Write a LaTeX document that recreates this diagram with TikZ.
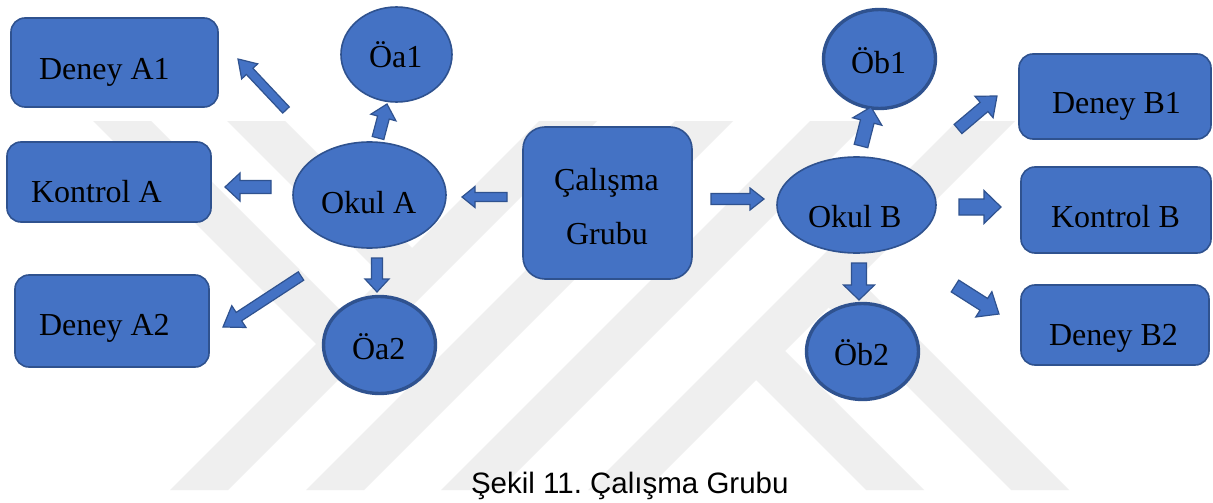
\documentclass[tikz,border=0pt]{standalone}
\usepackage{fontspec}
\setmainfont{Liberation Serif}
\newfontfamily\captionfont{Liberation Sans}
\usetikzlibrary{calc,shapes.geometric}
\frenchspacing

\definecolor{boxblue}{HTML}{4472C4}
\definecolor{edgeblue}{HTML}{2F528F}
\definecolor{markgray}{HTML}{EFEFEF}

% block arrow: tail, tip, half shaft width, half head width, head length
\newcommand\blockarrow[5]{%
  \coordinate (ba-neck) at ($(#2)!#5!(#1)$);
  \draw[arrowbody]
    ($(#1)!#3!90:(#2)$) -- ($(ba-neck)!#3!-90:(#1)$) -- ($(ba-neck)!#4!-90:(#1)$)
    -- (#2) -- ($(ba-neck)!#4!90:(#1)$) -- ($(ba-neck)!#3!90:(#1)$)
    -- ($(#1)!#3!-90:(#2)$) -- cycle;
}

\tikzset{
  every node/.style={inner sep=0pt, outer sep=0pt},
  panel/.style={rectangle, draw=edgeblue, fill=boxblue, line width=1.6pt, rounded corners=14pt},
  bigpanel/.style={panel, rounded corners=22pt},
  oval/.style={ellipse, draw=edgeblue, fill=boxblue, line width=1.6pt},
  thickoval/.style={oval, line width=3.4pt},
  arrowbody/.style={draw=edgeblue, fill=boxblue, line width=1.2pt, line join=miter},
  nodetext/.style={font=\fontsize{32pt}{32pt}\selectfont, anchor=base west, text=black},
  captiontext/.style={font=\captionfont\fontsize{29.5pt}{29.5pt}\selectfont, anchor=base west, text=black},
  stripe/.style={fill=markgray, draw=none},
}

\begin{document}
\begin{tikzpicture}[x=1pt, y=-1pt]
\fill[white] (0,0) rectangle (1213,503);
\useasboundingbox (0,0) rectangle (1213,503);

% background emblem: four rising stripes, two falling stripes at each end
\fill[stripe] (170,490) -- (228,490) -- (597,121) -- (539,121) -- cycle;
\fill[stripe] (306,490) -- (364,490) -- (733,121) -- (675,121) -- cycle;
\fill[stripe] (441,490) -- (499,490) -- (868,121) -- (810,121) -- cycle;
\fill[stripe] (588,490) -- (646,490) -- (1015,121) -- (957,121) -- cycle;
\fill[stripe] (93,121) -- (151,121) -- (374,344) -- (316,344) -- cycle;
\fill[stripe] (227,121) -- (285,121) -- (441,277) -- (383,277) -- cycle;
\fill[stripe] (866,490) -- (924,490) -- (785,351) -- (727,351) -- cycle;
\fill[stripe] (1011,490) -- (1069,490) -- (857.5,278.5) -- (799.5,278.5) -- cycle;

% boxes
\node[panel, minimum width=207pt, minimum height=89pt] (deneyA1) at (114.5,62.5) {};
\node[panel, minimum width=204pt, minimum height=80pt] (kontrolA) at (109,182) {};
\node[panel, minimum width=194pt, minimum height=92pt] (deneyA2) at (112,321) {};
\node[bigpanel, minimum width=169pt, minimum height=152pt] (calisma) at (607.5,203) {};
\node[panel, minimum width=192pt, minimum height=85pt] (deneyB1) at (1115,96.5) {};
\node[panel, minimum width=190pt, minimum height=86pt] (kontrolB) at (1116,210) {};
\node[panel, minimum width=188pt, minimum height=80pt] (deneyB2) at (1115,325) {};

% ellipses
\node[oval, minimum width=153pt, minimum height=106pt] (okulA) at (369.5,195) {};
\node[oval, minimum width=111pt, minimum height=95pt] (oa1) at (396.5,54.5) {};
\node[thickoval, minimum width=112pt, minimum height=97pt] (oa2) at (379.5,345) {};
\node[oval, minimum width=159pt, minimum height=96pt] (okulB) at (856.5,205) {};
\node[thickoval, minimum width=112pt, minimum height=99pt] (ob1) at (879.5,59) {};
\node[thickoval, minimum width=112pt, minimum height=96pt] (ob2) at (862.5,351.5) {};

% arrow end points
\coordinate (tA1) at (286,110);  \coordinate (hA1) at (238,59);
\coordinate (tOa1) at (378,138); \coordinate (hOa1) at (387,104);
\coordinate (tKA) at (271,187);  \coordinate (hKA) at (225,187);
\coordinate (tOa2) at (377,258); \coordinate (hOa2) at (377,292);
\coordinate (tA2) at (301,276);  \coordinate (hA2) at (223,327);
\coordinate (tCA) at (507,197);  \coordinate (hCA) at (462,197);
\coordinate (tCB) at (711,199);  \coordinate (hCB) at (764,199);
\coordinate (tKB) at (959,207);  \coordinate (hKB) at (1001,207);
\coordinate (tOb2) at (859,263); \coordinate (hOb2) at (859,300);
\coordinate (tB2) at (955,286);  \coordinate (hB2) at (999,314);
\coordinate (tOb1) at (861,146); \coordinate (hOb1) at (871,107);
\coordinate (tB1) at (958,129);  \coordinate (hB1) at (997,96);

% arrows
\blockarrow{tA1}{hA1}{4.5pt}{11pt}{17pt}
\blockarrow{tOa1}{hOa1}{6pt}{13pt}{14pt}
\blockarrow{tKA}{hKA}{6.5pt}{14pt}{15pt}
\blockarrow{tOa2}{hOa2}{5.5pt}{12pt}{13pt}
\blockarrow{tA2}{hA2}{5pt}{13pt}{19pt}
\blockarrow{tCA}{hCA}{4.5pt}{10.5pt}{13pt}
\blockarrow{tCB}{hCB}{5.5pt}{11pt}{14pt}
\blockarrow{tKB}{hKB}{8pt}{16.5pt}{17pt}
\blockarrow{tOb2}{hOb2}{7.5pt}{15.5pt}{15pt}
\blockarrow{tB2}{hB2}{7pt}{15pt}{18pt}
\blockarrow{tOb1}{hOb1}{7pt}{15pt}{15pt}
\blockarrow{tB1}{hB1}{6pt}{14pt}{17pt}

% labels
\node[nodetext] (tDA1) at (39,80) {Deney A1};
\node[nodetext] (tKAtxt) at (31,202) {Kontrol A};
\node[nodetext] (tDA2) at (39,335) {Deney A2};
\node[nodetext] (tOa1txt) at (369,68) {Öa1};
\node[nodetext] (tOA) at (321,213) {Okul A};
\node[nodetext] (tOa2txt) at (352,359) {Öa2};
\node[nodetext] (tC1) at (554,190) {Çalışma};
\node[nodetext] (tC2) at (566,244) {Grubu};
\node[nodetext] (tOB) at (808,227) {Okul B};
\node[nodetext] (tOb1txt) at (851,74) {Öb1};
\node[nodetext] (tOb2txt) at (834,365) {Öb2};
\node[nodetext] (tDB1) at (1052,113) {Deney B1};
\node[nodetext] (tKBtxt) at (1051,227) {Kontrol B};
\node[nodetext] (tDB2) at (1049,345) {Deney B2};

% caption
\node[captiontext] (caption) at (471,493) {Şekil 11. Çalışma Grubu};
\end{tikzpicture}
\end{document}
